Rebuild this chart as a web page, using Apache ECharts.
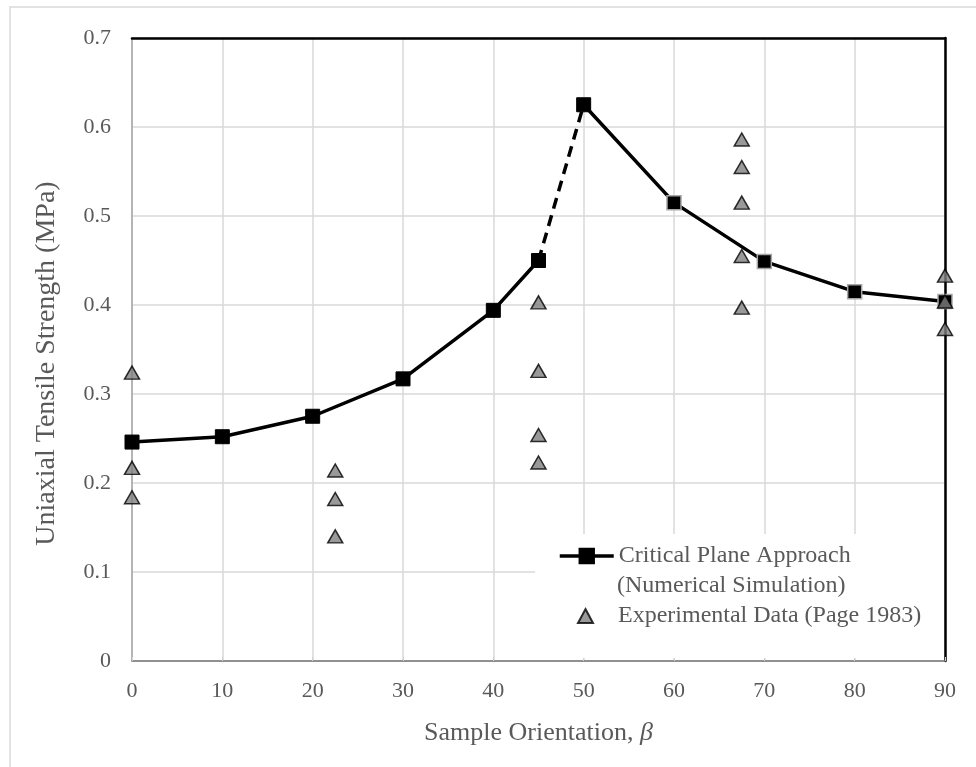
<!DOCTYPE html>
<html>
<head>
<meta charset="utf-8">
<script src="https://cdn.jsdelivr.net/npm/echarts@6/dist/echarts.min.js"></script>
<style>
  html, body { margin: 0; padding: 0; background: #fff; }
  #chart { width: 976px; height: 767px; }
</style>
</head>
<body>
<div id="chart"></div>
<script>
// Critical plane approach (numerical simulation)
const simBeta = [0, 10, 20, 30, 40, 45, 50, 60, 70, 80, 90];
const simStrength = [0.246, 0.252, 0.275, 0.317, 0.394, 0.450, 0.625, 0.515, 0.449, 0.415, 0.404];

// Experimental data (Page 1983)
const expBeta = [0, 0, 0, 22.5, 22.5, 22.5, 45, 45, 45, 45, 67.5, 67.5, 67.5, 67.5, 67.5, 90, 90, 90];
const expStrength = [0.324, 0.217, 0.184, 0.214, 0.182, 0.140, 0.403, 0.326, 0.254, 0.223,
                     0.586, 0.555, 0.515, 0.455, 0.397, 0.433, 0.404, 0.373];

const xTicks = { min: 0, max: 90, interval: 10 };
const yTicks = { min: 0, max: 0.7, interval: 0.1 };

const SIM_NAME = 'Critical Plane Approach';
const EXP_NAME = 'Experimental Data (Page 1983)';

const textGray = '#595959';
const fontFam = '"Liberation Serif", "Times New Roman", serif';

// The segment between 45 and 50 degrees is drawn dashed; the solid line breaks there.
const solidData = [];
simBeta.forEach((b, i) => {
  if (i === 6) solidData.push('-');
  const item = { value: [b, simStrength[i]] };
  if (b >= 60) item.itemStyle = { borderColor: '#a6a6a6', borderWidth: 1.5 };
  solidData.push(item);
});
const dashedData = [[simBeta[5], simStrength[5]], [simBeta[6], simStrength[6]]];
const expData = expBeta.map((b, i) => [b, expStrength[i]]);

const legendText = { fontFamily: fontFam, fontSize: 24, color: textGray, lineHeight: 24 };

const chart = echarts.init(document.getElementById('chart'));
chart.setOption({
  backgroundColor: '#fff',
  animation: false,
  grid: { left: 132, right: 31, top: 38, bottom: 106 },
  xAxis: [{
    type: 'value', min: xTicks.min, max: xTicks.max, interval: xTicks.interval,
    name: '{n|Sample Orientation, }{b|β}',
    nameLocation: 'middle', nameGap: 59,
    nameTextStyle: {
      rich: {
        n: { fontFamily: fontFam, fontSize: 26, color: textGray },
        b: { fontFamily: fontFam, fontSize: 26, color: textGray, fontStyle: 'italic' }
      }
    },
    axisLine: { show: true, onZero: false, lineStyle: { color: '#767676', width: 1.5 } },
    axisTick: { show: true, inside: true, length: 4, lineStyle: { color: '#d0d0d0' } },
    axisLabel: { margin: 19, fontFamily: fontFam, fontSize: 22, color: textGray },
    splitLine: { show: true, lineStyle: { color: '#d9d9d9', width: 1.5 } }
  }, {
    // plot-area frame along the top
    type: 'value', position: 'top', min: xTicks.min, max: xTicks.max,
    axisLine: { show: true, onZero: false, lineStyle: { color: '#000', width: 2.5 } },
    axisTick: { show: false }, axisLabel: { show: false }, splitLine: { show: false }
  }],
  yAxis: [{
    type: 'value', min: yTicks.min, max: yTicks.max, interval: yTicks.interval,
    name: 'Uniaxial Tensile Strength (MPa)',
    nameLocation: 'middle', nameGap: 71,
    nameTextStyle: { fontFamily: fontFam, fontSize: 28, color: textGray, padding: [0, 28, 0, 0] },
    axisLine: { show: true, onZero: false, lineStyle: { color: '#a6a6a6', width: 1.5 } },
    axisTick: { show: false },
    axisLabel: { margin: 21, fontFamily: fontFam, fontSize: 22, color: textGray },
    splitLine: { show: true, lineStyle: { color: '#d9d9d9', width: 1.5 } }
  }, {
    // plot-area frame along the right side
    type: 'value', position: 'right', min: yTicks.min, max: yTicks.max,
    axisLine: { show: true, onZero: false, lineStyle: { color: '#000', width: 2.5 } },
    axisTick: { show: false }, axisLabel: { show: false }, splitLine: { show: false }
  }],
  legend: [{
    orient: 'vertical',
    left: 558, top: 544, padding: 0,
    itemWidth: 54, itemHeight: 18,
    data: [SIM_NAME],
    lineStyle: { width: 3.5 },
    textStyle: legendText,
    selectedMode: false
  }, {
    orient: 'vertical',
    left: 577, top: 604, padding: 0,
    itemWidth: 15, itemHeight: 14,
    data: [EXP_NAME],
    textStyle: Object.assign({ padding: [0, 0, 0, 20] }, legendText),
    selectedMode: false
  }],
  graphic: [
    {
      // outer chart border
      type: 'rect', z: 0, silent: true,
      shape: { x: 10, y: 7, width: 980, height: 780 },
      style: { fill: 'none', stroke: '#d9d9d9', lineWidth: 1.5 }
    },
    {
      // white panel behind the legend
      type: 'rect', z: 1, silent: true,
      shape: { x: 535, y: 534, width: 409, height: 124 },
      style: { fill: '#fff' }
    },
    {
      type: 'text', z: 10, silent: true,
      x: 617, y: 586,
      style: {
        text: '(Numerical Simulation)', fontFamily: fontFam, fontSize: 24,
        fill: textGray, verticalAlign: 'middle', align: 'left'
      }
    }
  ],
  series: [
    {
      name: SIM_NAME, type: 'line', z: 3,
      data: solidData, connectNulls: false,
      symbol: 'rect', symbolSize: 14,
      lineStyle: { color: '#000', width: 3.5 },
      itemStyle: { color: '#000', borderColor: '#000', borderWidth: 1 }
    },
    {
      name: 'dashed', type: 'line', z: 2,
      data: dashedData, symbol: 'none',
      lineStyle: { color: '#000', width: 3.5, type: [11, 7] }
    },
    {
      name: EXP_NAME, type: 'scatter', z: 4,
      data: expData,
      symbol: 'triangle', symbolSize: [15, 13],
      itemStyle: { color: '#808080', borderColor: '#000', borderWidth: 1.5 }
    }
  ]
});
</script>
</body>
</html>
